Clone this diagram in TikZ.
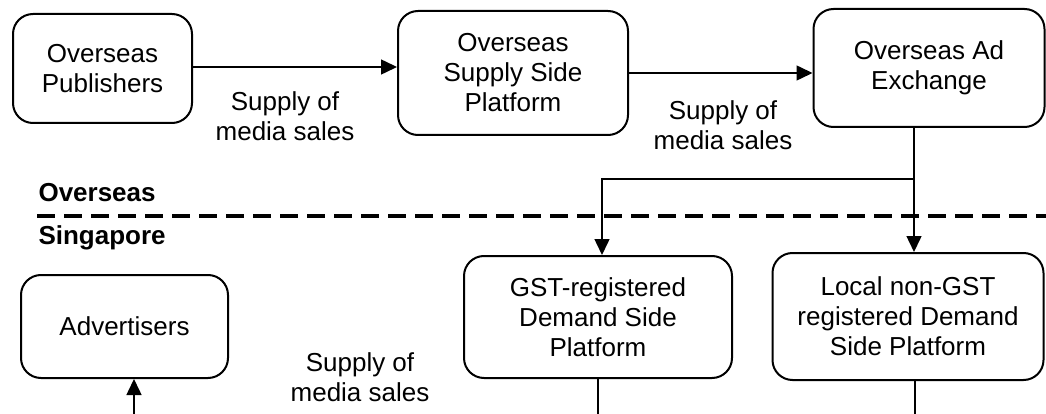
\documentclass[tikz,border=0pt]{standalone}
\usepackage{fontspec}
\setmainfont{Liberation Sans}
\usetikzlibrary{arrows.meta}
\tikzstyle{block}=[draw,line width=2pt,rounded corners=20pt,align=center,inner sep=0pt]
\tikzstyle{arrow}=[-{Triangle[length=16pt,width=15pt]},line width=1.5pt]
\tikzstyle{line}=[line width=1.5pt]
\tikzstyle{flow}=[align=center]
\tikzstyle{region}=[anchor=west,font=\fontsize{26}{30}\selectfont\bfseries]

\begin{document}
\begin{tikzpicture}[x=1pt,y=-1pt,font=\fontsize{26}{30}\selectfont]
	\useasboundingbox (0,0) rectangle (1046,414);

	%overseas side
	\node[block,minimum width=179pt,minimum height=109pt] (pub) at (102.5,68.5) {Overseas\\Publishers};
	\node[block,minimum width=230pt,minimum height=124pt] (ssp) at (513,73) {Overseas\\Supply Side\\Platform};
	\node[block,minimum width=231pt,minimum height=118pt] (adx) at (929,68) {Overseas Ad\\Exchange};

	%singapore side
	\node[block,minimum width=207pt,minimum height=103pt] (adv) at (124.5,326.5) {Advertisers};
	\node[block,minimum width=268pt,minimum height=122pt] (gst) at (598,317) {GST-registered\\Demand Side\\Platform};
	\node[block,minimum width=271pt,minimum height=127pt] (loc) at (908,316.5) {Local non-GST\\registered Demand\\Side Platform};

	%border
	\node[region] (os) at (35,193) {Overseas};
	\node[region] (sg) at (35,238) {Singapore};
	\draw[line width=3.5pt,dash pattern=on 18pt off 9pt] (37,216) -- (1046,216);

	%flows
	\coordinate (split) at (914,179);
	\coordinate (branch) at (602,179);
	\coordinate (gstout) at (598,414);
	\coordinate (locout) at (915,414);
	\coordinate (advin) at (134,414);

	\draw[arrow] (pub.east |- 0,67) -- (ssp.west |- 0,67);
	\draw[arrow] (ssp.east |- 0,73) -- (adx.west |- 0,73);
	\draw[arrow] (adx.south -| split) -- (loc.north -| split);
	\draw[arrow] (split) -- (branch) -- (gst.north -| branch);
	\draw[line] (gst.south -| gstout) -- (gstout);
	\draw[line] (loc.south -| locout) -- (locout);
	\draw[arrow] (advin) -- (adv.south -| advin);

	%labels
	\node[flow] (s1) at (285,116) {Supply of\\media sales};
	\node[flow] (s2) at (723,125) {Supply of\\media sales};
	\node[flow] (s3) at (360,377) {Supply of\\media sales};
\end{tikzpicture}
\end{document}
